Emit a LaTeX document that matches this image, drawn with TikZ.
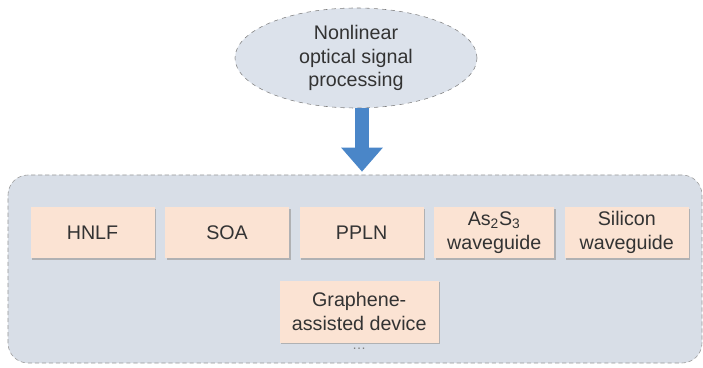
\documentclass[tikz,border=0pt]{standalone}
\usepackage{fontspec}
\setmainfont{Liberation Sans}
\usetikzlibrary{arrows.meta, positioning, shapes.geometric, shadows}

\definecolor{peach}{HTML}{FBE3D3}
\definecolor{ellgray}{HTML}{DCE2EB}
\definecolor{framegray}{HTML}{D8DEE7}
\definecolor{arrowblue}{HTML}{4A86C8}
\definecolor{textgray}{HTML}{333333}

\begin{document}
\begin{tikzpicture}[
    every node/.style={font=\fontsize{14}{17}\selectfont, text=textgray},
    devbox/.style={fill=peach, minimum width=3.1cm, minimum height=1.275cm,
        align=center, inner sep=1pt,
        drop shadow={shadow xshift=1.2pt, shadow yshift=-1.2pt, fill=gray!70, opacity=0.8}},
    bigarrow/.style={line width=0.33cm, arrowblue, -{Triangle[length=0.6cm, width=1cm]}}
]
    \useasboundingbox (0,0) rectangle (17.575,9.175);

    % Topic
    \node[ellipse, draw=gray, dashed, fill=ellgray, minimum width=6.05cm,
          minimum height=2.5cm, inner sep=0pt, align=center] (ell) at (8.9,7.725)
          {Nonlinear\\optical signal\\processing};

    % Frame
    \node[draw=gray!80, densely dashed, fill=framegray, rounded corners=0.5cm,
          minimum width=17.35cm, minimum height=4.7cm] (frame) at (8.875,2.45) {};

    % Arrow
    \coordinate (tail) at ([xshift=0.15cm]ell.south);
    \coordinate (head) at ([yshift=0.075cm]tail |- frame.north);
    \draw[bigarrow] (tail) -- (head);

    % Devices
    \node[devbox] (hnlf) at (2.3125,3.3625) {HNLF};
    \node[devbox, right=0.25cm of hnlf] (soa) {SOA};
    \node[devbox, right=0.25cm of soa] (ppln) {PPLN};
    \node[devbox, right=0.25cm of ppln, minimum width=3.0cm] (as2s3)
          {As\textsubscript{2}S\textsubscript{3}\\waveguide};
    \node[devbox, right=0.25cm of as2s3] (silicon) {Silicon\\waveguide};

    \node[devbox, below=0.55cm of ppln, minimum width=3.975cm, minimum height=1.55cm,
          xshift=-0.06cm] (graphene) {Graphene-\\assisted device};

    \node[below=0cm of graphene, font=\fontsize{10}{10}\selectfont, text=gray] (dots) {\dots};

\end{tikzpicture}
\end{document}
